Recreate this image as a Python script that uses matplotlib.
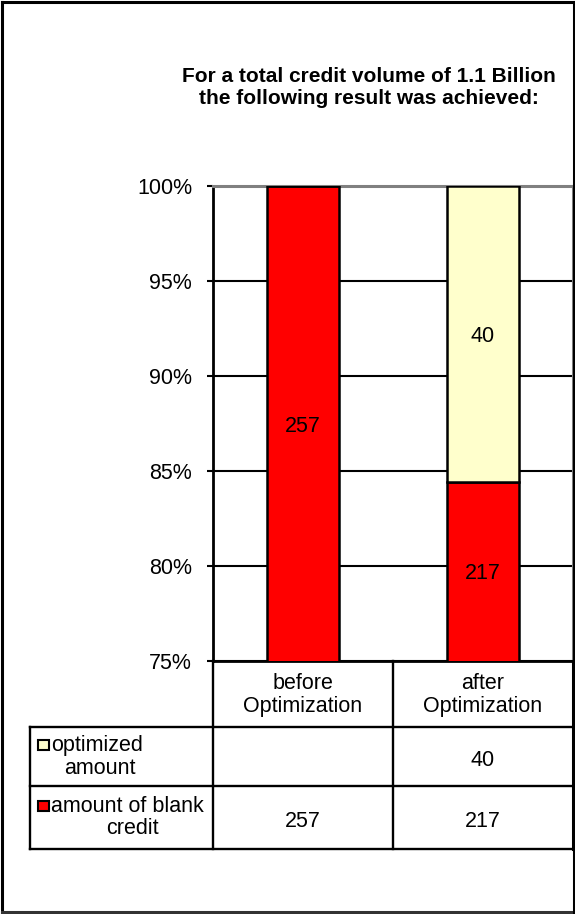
import matplotlib
matplotlib.use("Agg")
import matplotlib.pyplot as plt
from matplotlib.lines import Line2D
from matplotlib.patches import Rectangle
import numpy as np

# ---- data ----
categories = ["before\nOptimization", "after\nOptimization"]
series_names = ["optimized\namount", "amount of blank\ncredit"]
blank_credit = [257, 217]
optimized = [None, 40]
title = "For a total credit volume of 1.1 Billion\nthe following result was achieved:"
y_ticks = [0.75, 0.80, 0.85, 0.90, 0.95, 1.00]
y_tick_labels = ["75%", "80%", "85%", "90%", "95%", "100%"]

RED = "#FF0000"
YELLOW = "#FFFFCC"
FONT = "Liberation Sans"
FS = 15.5

plt.rcParams["font.family"] = [FONT, "DejaVu Sans"]

W, H = 575, 914
fig = plt.figure(figsize=(W / 100, H / 100), dpi=100)


def fx(x):
    return x / W


def fy(y):
    return 1 - y / H


def fline(x0, y0, x1, y1, color="black", lw=1.5):
    fig.add_artist(Line2D([fx(x0), fx(x1)], [fy(y0), fy(y1)], color=color,
                          lw=lw, transform=fig.transFigure, solid_capstyle="projecting"))


# plot area in pixels
L, R, T, B = 213, 573, 186, 661
ax = fig.add_axes([fx(L), fy(B), (R - L) / W, (B - T) / H])

blank = np.array(blank_credit, dtype=float)
opt = np.array([v if v is not None else 0 for v in optimized], dtype=float)
total = blank + opt
blank_share = blank / total
opt_share = opt / total
x = np.arange(len(categories))
bw = 0.405

ax.bar(x, blank_share, bw, color=RED, edgecolor="black", linewidth=1.8, zorder=3)
ax.bar(x, opt_share, bw, bottom=blank_share, color=YELLOW, edgecolor="black",
       linewidth=1.8, zorder=3)

ymin, ymax = 0.75, 1.0
ax.set_xlim(-0.5, len(categories) - 0.5)
ax.set_ylim(ymin, ymax)
ax.set_yticks(y_ticks)
ax.set_yticklabels(y_tick_labels, fontsize=FS)
ax.set_xticks([])
ax.tick_params(axis="y", direction="out", length=4.5, width=1.5, pad=10.5)
ax.yaxis.grid(True, color="black", lw=1.5)
ax.set_axisbelow(True)
for s in ["left", "bottom"]:
    ax.spines[s].set_color("black")
    ax.spines[s].set_linewidth(2)
for s in ["top", "right"]:
    ax.spines[s].set_color("#808080")
    ax.spines[s].set_linewidth(2.2)

# value labels in the middle of the visible segment
for i in range(len(categories)):
    segs = [(0, blank_share[i], blank[i]), (blank_share[i], blank_share[i] + opt_share[i], opt[i])]
    for lo, hi, v in segs:
        if v <= 0:
            continue
        lo_c, hi_c = max(lo, ymin), min(hi, ymax)
        if hi_c <= lo_c:
            continue
        ax.text(x[i], (lo_c + hi_c) / 2, f"{int(v)}", ha="center", va="center_baseline",
                fontsize=FS, zorder=5)

# title
fig.text(fx(369), fy(88), title, ha="center", va="center", fontsize=15,
         fontweight="bold", linespacing=1.2)

# ---- data table ----
col_edges = [L, 393, R]
row_lines = [B, 727, 786, 849]
left_col = 30
lw_t = 1.7
fline(left_col, row_lines[1], R, row_lines[1], lw=lw_t)
fline(left_col, row_lines[2], R, row_lines[2], lw=lw_t)
fline(left_col, row_lines[3], R, row_lines[3], lw=lw_t)
fline(left_col, row_lines[1], left_col, row_lines[3], lw=lw_t)
fline(L, B, L, row_lines[3], lw=lw_t)
fline(393, B, 393, row_lines[3], lw=lw_t)
fline(R, B, R, row_lines[3], lw=2.2)

centers = [(col_edges[i] + col_edges[i + 1]) / 2 for i in range(len(categories))]
for i, c in enumerate(categories):
    fig.text(fx(centers[i]), fy(695), c, ha="center", va="center", fontsize=FS,
             linespacing=1.1)

rows = [optimized, blank_credit]
row_centers = [758, 819]
for r, vals in enumerate(rows):
    for i, v in enumerate(vals):
        if v is None:
            continue
        fig.text(fx(centers[i]), fy(row_centers[r]), f"{v}", ha="center",
                 va="center_baseline", fontsize=FS)

# row headers with legend keys
colors = [YELLOW, RED]
key_y = [745, 806]
line2_x = [100, 132]
for r in range(2):
    l1, l2 = series_names[r].split("\n")
    fig.add_artist(Rectangle((fx(38), fy(key_y[r] + 5)), 11 / W, 10 / H,
                             facecolor=colors[r], edgecolor="black", lw=1.5,
                             transform=fig.transFigure))
    fig.text(fx(51), fy(key_y[r]), l1, ha="left", va="center", fontsize=FS)
    fig.text(fx(line2_x[r]), fy(key_y[r] + 23), l2, ha="center", va="center", fontsize=FS)

# outer frame
fline(1.5, 1.5, 573.5, 1.5, lw=2.2)
fline(1.5, 1.5, 1.5, 912.5, lw=2.2)
fline(1.5, 912, 573.5, 912, color="#333333", lw=2.2)
fline(573.5, 1.5, 573.5, 912, lw=2.2)

fig.savefig("out.png", dpi=100)
